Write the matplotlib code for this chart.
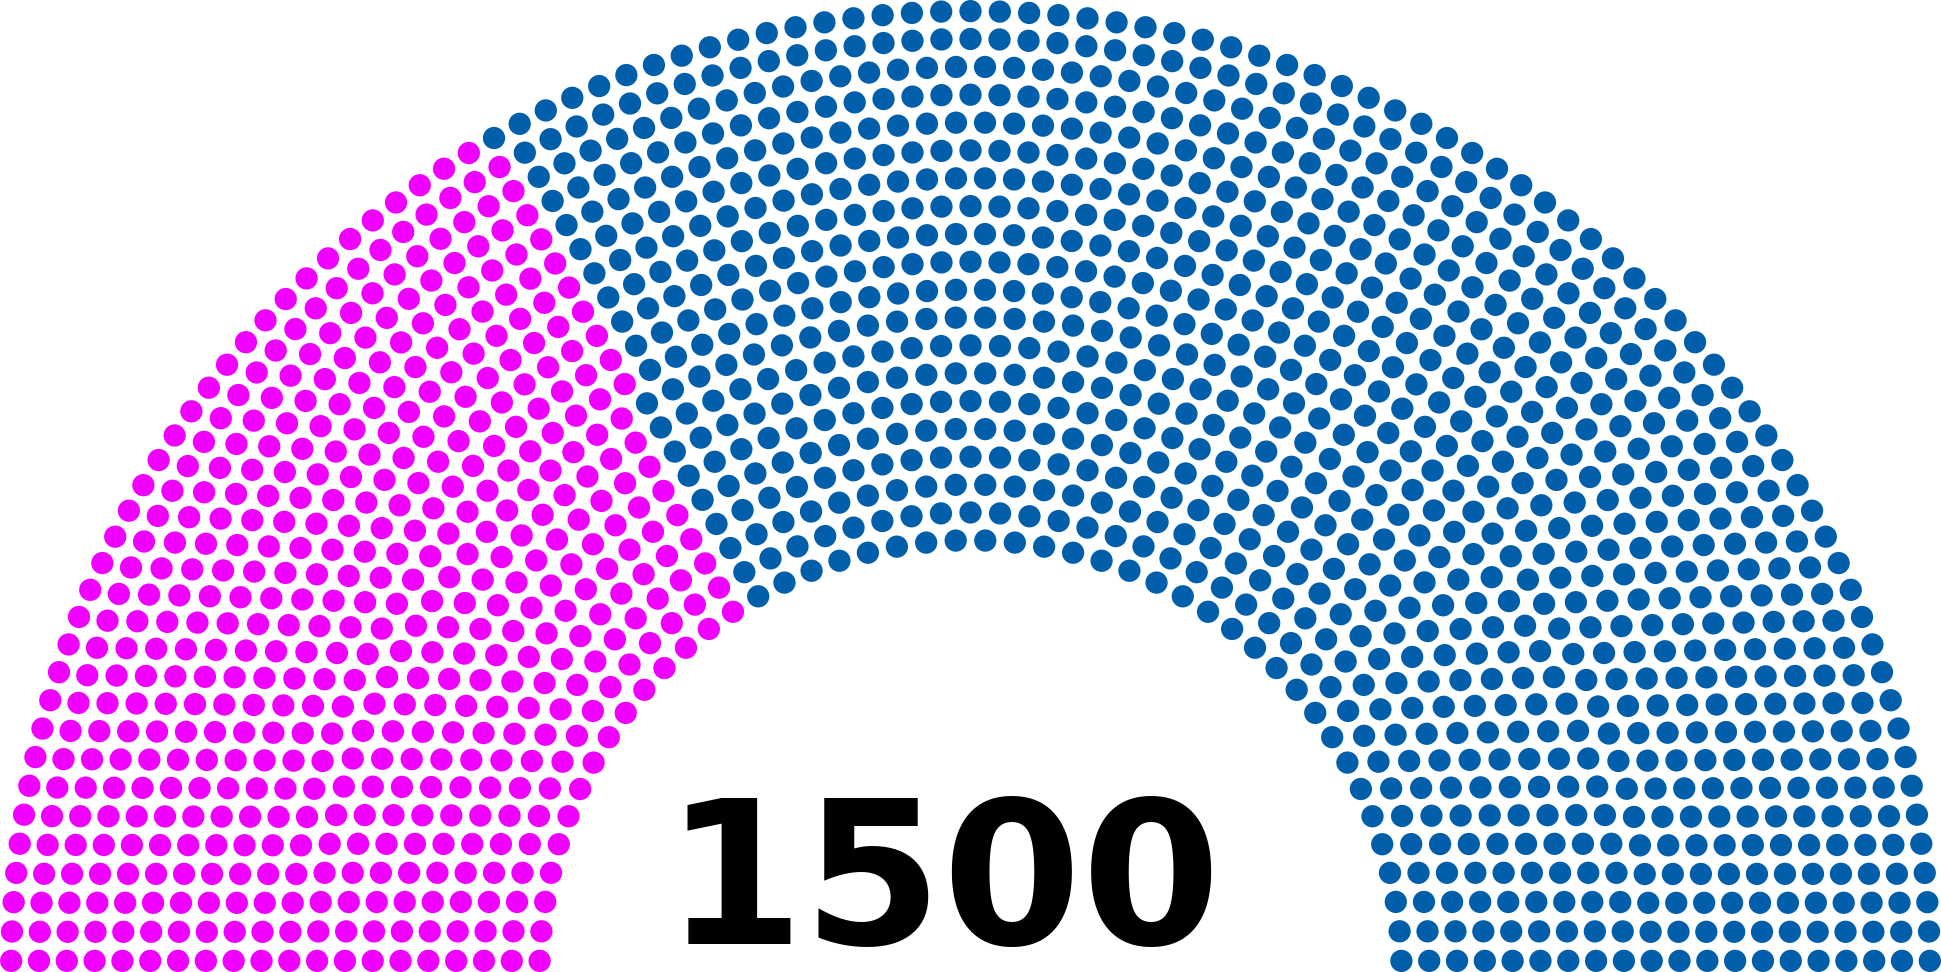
import math
import matplotlib
matplotlib.use("Agg")
import matplotlib.pyplot as plt
from matplotlib.patches import Circle
from matplotlib.collections import PatchCollection

# seat data
parties = ["Party A", "Party B"]
seats = [500, 1000]
colors = ["#f000ff", "#005eaa"]
total_label = "1500"


def seat_positions(n, rows=20, capacity=1560):
    # arch layout: rows of seats, inner rows get fewer
    radius = 0.4 / rows
    pos = []
    for i in range(1, rows):
        R = (3.0 * rows + 4.0 * i - 2.0) / (4.0 * rows)
        J = int(float(n) / capacity * math.pi / (2 * math.asin(2.0 / (3.0 * rows + 4.0 * i - 2.0))))
        for j in range(J):
            a = j * (math.pi - 2.0 * math.sin(radius / R)) / (J - 1.0) + math.sin(radius / R)
            pos.append((a, R * math.cos(a) + 1.75, R * math.sin(a)))
    # outer row takes whatever is left
    J = n - len(pos)
    R = (7.0 * rows - 2.0) / (4.0 * rows)
    for j in range(J):
        a = j * (math.pi - 2.0 * math.sin(radius / R)) / (J - 1.0) + math.sin(radius / R)
        pos.append((a, R * math.cos(a) + 1.75, R * math.sin(a)))
    # left to right
    pos.sort(reverse=True)
    return pos, radius


pos, radius = seat_positions(sum(seats))

fig = plt.figure(figsize=(19.41, 9.72), dpi=100)
ax = fig.add_axes([0, 0, 1, 1])
ax.set_xlim(0.005, 3.495)
ax.set_ylim(0, 1.745)
ax.axis("off")

idx = 0
for party, count, col in zip(parties, seats, colors):
    circles = [Circle((x, y), radius) for _, x, y in pos[idx:idx + count]]
    ax.add_collection(PatchCollection(circles, facecolor=col, edgecolor="none", label=party))
    idx += count

ax.text(1.70, 0.05, total_label, ha="center", va="baseline",
        fontsize=144, fontweight="bold", family="DejaVu Sans")

fig.savefig("out.png", dpi=100)
